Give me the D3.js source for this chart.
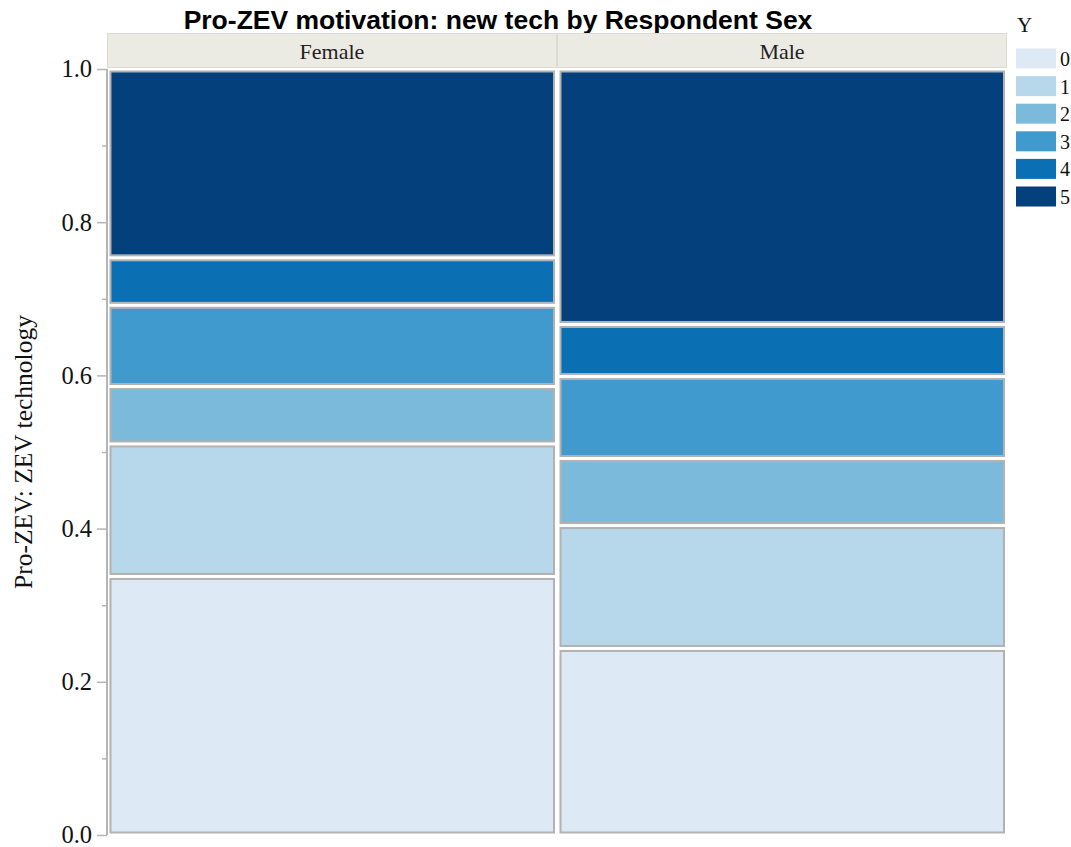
<!DOCTYPE html>
<html>
<head>
<meta charset="utf-8">
<script src="https://cdn.jsdelivr.net/npm/d3@7"></script>
<style>
  body { margin: 0; background: #fff; }
  svg { display: block; }
</style>
</head>
<body>
<svg id="chart" width="1071" height="847"></svg>
<script>
// dados
var sexes = ["Female", "Male"];
var levels = ["0", "1", "2", "3", "4", "5"];
var female = [0.3375, 0.173, 0.075, 0.106, 0.062, 0.2465];
var male = [0.2435, 0.1605, 0.0875, 0.107, 0.068, 0.3335];
var yTicks = [0, 0.2, 0.4, 0.6, 0.8, 1.0];
var yMinorTicks = [0.1, 0.3, 0.5, 0.7, 0.9];
var colors = ["#dde9f5", "#b7d8ea", "#7cbadc", "#419acd", "#0a6fb3", "#04417c"];

let svg = d3.select("#chart");
let serif = "'Liberation Serif', 'Times New Roman', serif";

let x = d3.scaleBand().domain(sexes).range([107, 1007]).padding(0);
let y = d3.scaleLinear().domain([0, 1]).range([835, 69]);
let color = d3.scaleOrdinal().domain(levels).range(colors);

//TITULO
svg.append("text")
    .attr("x", 498)
    .attr("y", 29)
    .attr("text-anchor", "middle")
    .attr("font-family", "'Liberation Sans', Arial, sans-serif")
    .attr("font-weight", "bold")
    .attr("font-size", "26.5px")
    .text("Pro-ZEV motivation: new tech by Respondent Sex");

//FAIXAS DOS PAINEIS
sexes.forEach(function (s) {
    svg.append("rect")
        .attr("x", x(s) + 0.5)
        .attr("y", 33.5)
        .attr("width", x.bandwidth() - 1)
        .attr("height", 34)
        .attr("fill", "#ebeae3")
        .attr("stroke", "#dcdcd2")
        .attr("stroke-width", 1);
    svg.append("text")
        .attr("x", x(s) + x.bandwidth() / 2)
        .attr("y", 58.5)
        .attr("text-anchor", "middle")
        .attr("font-family", serif)
        .attr("font-size", "22px")
        .attr("fill", "#222")
        .text(s);
});

//SEGMENTOS EMPILHADOS
let series = { Female: female, Male: male };
sexes.forEach(function (s) {
    let cum = 0;
    series[s].forEach(function (v, i) {
        let y0 = cum;
        let y1 = cum + v;
        cum = y1;
        let top = y(y1) + 1.5;
        let bottom = y(y0) - 1.5;
        let left = x(s) + 2.5;
        let right = x(s) + x.bandwidth() - 2;
        svg.append("rect")
            .attr("x", left + 1)
            .attr("y", top + 1)
            .attr("width", right - left - 2)
            .attr("height", bottom - top - 2)
            .attr("fill", color(levels[i]))
            .attr("stroke", "#b2b2b2")
            .attr("stroke-width", 2);
    });
});

//EIXO Y
let yAxis = svg.append("g")
    .attr("transform", "translate(107,0)")
    .call(d3.axisLeft(y).tickValues(yTicks).tickFormat(d3.format(".1f")).tickSize(10).tickPadding(5));
yAxis.select(".domain").attr("stroke", "#b5b5b5").attr("stroke-width", 2)
    .attr("d", "M0," + y(1) + "V" + y(0));
yAxis.selectAll(".tick line").attr("stroke", "#b5b5b5").attr("stroke-width", 1.5);
yAxis.selectAll(".tick text")
    .attr("font-family", serif)
    .attr("font-size", "24.5px")
    .attr("fill", "#111");

let yMinor = svg.append("g")
    .attr("transform", "translate(107,0)")
    .call(d3.axisLeft(y).tickValues(yMinorTicks).tickFormat("").tickSize(5));
yMinor.select(".domain").remove();
yMinor.selectAll(".tick line").attr("stroke", "#b5b5b5").attr("stroke-width", 1.5);

svg.append("text")
    .attr("transform", "translate(32,452) rotate(-90)")
    .attr("text-anchor", "middle")
    .attr("font-family", serif)
    .attr("font-size", "25.5px")
    .attr("fill", "#111")
    .text("Pro-ZEV: ZEV technology");

//LEGENDA
let legend = svg.append("g").attr("transform", "translate(1016,0)");
legend.append("text")
    .attr("x", 1)
    .attr("y", 32)
    .attr("font-family", serif)
    .attr("font-size", "21px")
    .attr("fill", "#111")
    .text("Y");
levels.forEach(function (l, i) {
    legend.append("rect")
        .attr("x", 0)
        .attr("y", 48.5 + i * 27.6)
        .attr("width", 40)
        .attr("height", 20)
        .attr("fill", color(l));
    legend.append("text")
        .attr("x", 44)
        .attr("y", 66 + i * 27.6)
        .attr("font-family", serif)
        .attr("font-size", "20px")
        .attr("fill", "#111")
        .text(l);
});
</script>
</body>
</html>
